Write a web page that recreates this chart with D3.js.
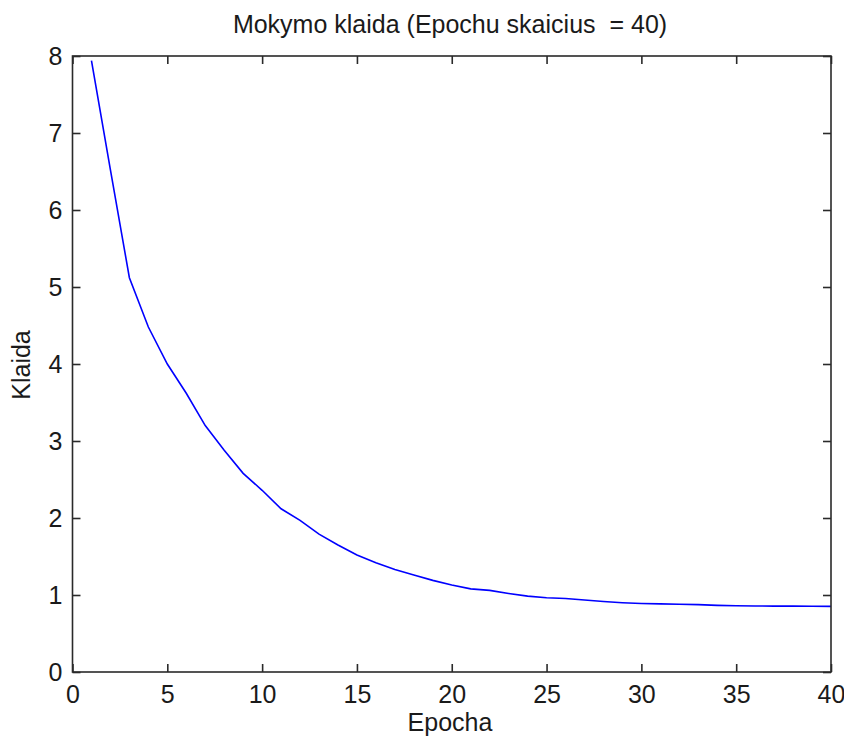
<!DOCTYPE html>
<html>
<head>
<meta charset="utf-8">
<script src="https://cdn.jsdelivr.net/npm/d3@7"></script>
<style>
  html, body { margin: 0; padding: 0; background: #fff; }
  svg { display: block; }
  text { font-family: "Liberation Sans", Arial, sans-serif; fill: #1a1a1a; }
</style>
</head>
<body>
<svg id="chart" width="844" height="738"></svg>
<script>
// Training error per epoch
const epochs = d3.range(1, 41);
const errors = [
  7.94, 6.52, 5.12, 4.48, 4.00, 3.62, 3.20, 2.88, 2.58, 2.36,
  2.12, 1.97, 1.79, 1.65, 1.52, 1.42, 1.33, 1.26, 1.19, 1.13,
  1.08, 1.06, 1.02, 0.985, 0.965, 0.955, 0.935, 0.915, 0.90, 0.89,
  0.885, 0.88, 0.875, 0.865, 0.86, 0.858, 0.856, 0.855, 0.853, 0.852
];
const xTicks = [0, 5, 10, 15, 20, 25, 30, 35, 40];
const yTicks = [0, 1, 2, 3, 4, 5, 6, 7, 8];
const titleText = "Mokymo klaida (Epochu skaicius\u00a0 = 40)";
const xLabel = "Epocha";
const yLabel = "Klaida";

const svg = d3.select("#chart");
const plotLeft = 72.5, plotRight = 831, plotTop = 56, plotBottom = 672;
const x = d3.scaleLinear().domain([0, 40]).range([plotLeft, plotRight]);
const y = d3.scaleLinear().domain([0, 8]).range([plotBottom, plotTop]);

const axisColor = "#2a2a2a";
const tickLen = 8;
const tickFont = "'Liberation Sans Narrow', 'Liberation Sans', Arial, sans-serif";

// Data line
const line = d3.line().x((d, i) => x(epochs[i])).y(d => y(d));
svg.append("path")
  .datum(errors)
  .attr("d", line)
  .attr("fill", "none")
  .attr("stroke", "#0000ff")
  .attr("stroke-width", 1.6);

// Axes (ticks pointing inward, mirrored on top and right)
function styleAxis(g) {
  g.select(".domain").remove();
  g.selectAll(".tick line").attr("stroke", axisColor).attr("stroke-width", 1.6);
  g.selectAll(".tick text").attr("font-size", 25).attr("fill", "#1a1a1a")
    .attr("font-family", tickFont);
}

svg.append("g")
  .attr("transform", `translate(0,${plotBottom})`)
  .call(d3.axisBottom(x).tickValues(xTicks).tickSizeInner(-tickLen).tickSizeOuter(0).tickPadding(13))
  .call(styleAxis);

svg.append("g")
  .attr("transform", `translate(0,${plotTop})`)
  .call(d3.axisTop(x).tickValues(xTicks).tickSizeInner(-tickLen).tickSizeOuter(0).tickFormat(""))
  .call(styleAxis);

svg.append("g")
  .attr("transform", `translate(${plotLeft},0)`)
  .call(d3.axisLeft(y).tickValues(yTicks).tickSizeInner(-tickLen).tickSizeOuter(0).tickPadding(10))
  .call(styleAxis);

svg.append("g")
  .attr("transform", `translate(${plotRight},0)`)
  .call(d3.axisRight(y).tickValues(yTicks).tickSizeInner(-tickLen).tickSizeOuter(0).tickFormat(""))
  .call(styleAxis);

// Box
svg.append("rect")
  .attr("x", plotLeft).attr("y", plotTop)
  .attr("width", plotRight - plotLeft).attr("height", plotBottom - plotTop)
  .attr("fill", "none").attr("stroke", axisColor).attr("stroke-width", 1.6);

// Title and axis labels
svg.append("text")
  .attr("x", 450).attr("y", 33)
  .attr("text-anchor", "middle").attr("font-size", 25)
  .text(titleText);

svg.append("text")
  .attr("x", 450).attr("y", 731)
  .attr("text-anchor", "middle").attr("font-size", 25)
  .text(xLabel);

svg.append("text")
  .attr("transform", `translate(30,365) rotate(-90)`)
  .attr("text-anchor", "middle").attr("font-size", 25)
  .text(yLabel);
</script>
</body>
</html>
